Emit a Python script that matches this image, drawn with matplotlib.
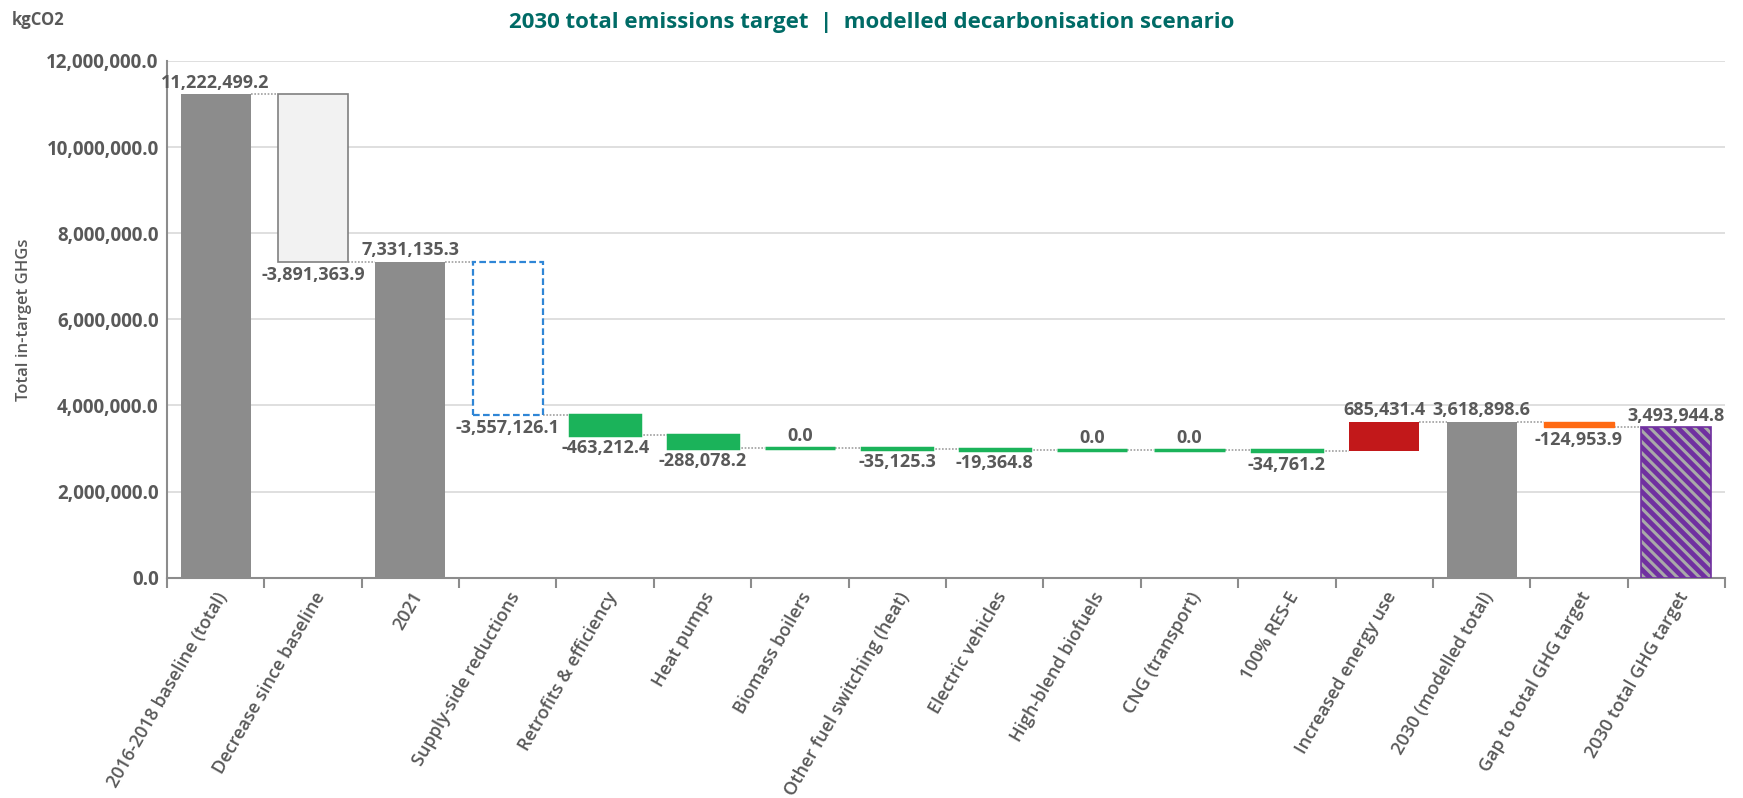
import matplotlib.pyplot as plt
import numpy as np

plt.rcParams['font.family'] = ['Open Sans', 'DejaVu Sans']
plt.rcParams['hatch.linewidth'] = 2.2
plt.rcParams['hatch.color'] = '#a9a9a9'

categories = ['2016-2018 baseline (total)', 'Decrease since baseline', '2021',
              'Supply-side reductions', 'Retrofits & efficiency', 'Heat pumps',
              'Biomass boilers', 'Other fuel switching (heat)', 'Electric vehicles',
              'High-blend biofuels', 'CNG (transport)', '100% RES-E',
              'Increased energy use', '2030 (modelled total)', 'Gap to total GHG target',
              '2030 total GHG target']
values = [11222499.2, -3891363.9, 7331135.3, -3557126.1, -463212.4, -288078.2,
          0.0, -35125.3, -19364.8, 0.0, 0.0, -34761.2, 685431.4, 3618898.6,
          -124953.9, 3493944.8]
is_total = [True, False, True, False, False, False, False, False, False, False,
            False, False, False, True, False, True]

grey = '#8c8c8c'
green = '#1bb35a'
face = [grey, '#f2f2f2', grey, 'white'] + [green] * 8 + ['#c2181a', grey, '#ff6a13', '#7030a0']
text_col = '#595959'

fig = plt.figure(figsize=(17.43, 7.98), dpi=100)
ax = fig.add_axes([0.0958, 0.276, 0.8939, 0.6476])

x = np.arange(len(categories))
w = 0.72
level = 0.0
bottoms, tops = [], []
for v, t in zip(values, is_total):
    if t:
        b, top = 0.0, v
        level = v
    else:
        b, top = min(level, level + v), max(level, level + v)
        level = level + v
    bottoms.append(b)
    tops.append(top)
heights = [t - b for b, t in zip(bottoms, tops)]

for i in range(len(categories)):
    kw = dict(color=face[i], width=w, zorder=3)
    if i == 1:
        kw.update(edgecolor='#808080', linewidth=1.2)
    elif i == 3:
        kw.update(edgecolor='#2f86d6', linewidth=1.6, linestyle=(0, (3, 1.5)))
    elif i == 15:
        kw.update(edgecolor='#a9a9a9', hatch='\\\\\\', linewidth=0)
    elif 4 <= i <= 11:
        kw.update(edgecolor=green, linewidth=2.5)
    elif i == 14:
        kw.update(edgecolor='#ff6a13', linewidth=1)
    ax.bar(x[i], heights[i], bottom=bottoms[i], **kw)
    if i == 15:
        ax.bar(x[i], heights[i], bottom=bottoms[i], width=w, color='none',
               edgecolor='#7030a0', linewidth=1.2, zorder=4)

# connectors
level = 0.0
for i, (v, t) in enumerate(zip(values, is_total)):
    level = v if t else level + v
    if i < len(categories) - 1:
        ax.plot([x[i] + w / 2, x[i + 1] - w / 2], [level, level], color='#a0a0a0',
                linestyle=(0, (1, 1)), linewidth=1.2, zorder=2)

# labels
for i, v in enumerate(values):
    txt = f'{v:,.1f}'
    if v >= 0:
        ax.annotate(txt, (x[i], tops[i]), xytext=(0, 2), textcoords='offset points',
                    ha='center', va='bottom', fontsize=13, fontweight='bold',
                    color=text_col, zorder=5)
    else:
        ax.annotate(txt, (x[i], bottoms[i]), xytext=(0, -3), textcoords='offset points',
                    ha='center', va='top', fontsize=13, fontweight='bold',
                    color=text_col, zorder=5)

ax.set_xlim(-0.5, len(categories) - 0.5)
ax.set_ylim(0, 12000000)
ax.set_yticks(np.arange(0, 12000001, 2000000))
ax.set_yticklabels([f'{t:,.1f}' for t in np.arange(0, 12000001, 2000000)],
                   fontsize=13.5, fontweight='bold', color=text_col)
ax.tick_params(axis='y', length=0, pad=6)
ax.set_xticks(x)
ax.set_xticklabels(categories, rotation=60, ha='right', rotation_mode='anchor',
                   fontsize=13, fontweight=600, color=text_col)
ax.tick_params(axis='x', which='major', length=0, pad=8)
ax.set_xticks(np.arange(-0.5, len(categories)), minor=True)
ax.tick_params(axis='x', which='minor', length=7, width=1.5, color='#8c8c8c')

ax.grid(axis='y', color='#d9d9d9', linewidth=1.2, zorder=0)
ax.set_axisbelow(True)
for s in ['top', 'right']:
    ax.spines[s].set_visible(False)
for s in ['left', 'bottom']:
    ax.spines[s].set_color('#8c8c8c')
    ax.spines[s].set_linewidth(1.5)

ax.set_ylabel('Total in-target GHGs', fontsize=12, fontweight=600, color=text_col,
              labelpad=10)
fig.text(0.007, 0.975, 'kgCO2', fontsize=12, fontweight='bold', color=text_col,
         va='center', ha='left')
fig.text(0.5, 0.972, '2030 total emissions target  |  modelled decarbonisation scenario',
         fontsize=16, fontweight='bold', color='#006b66', ha='center', va='center')

fig.savefig('out.png', dpi=100)
